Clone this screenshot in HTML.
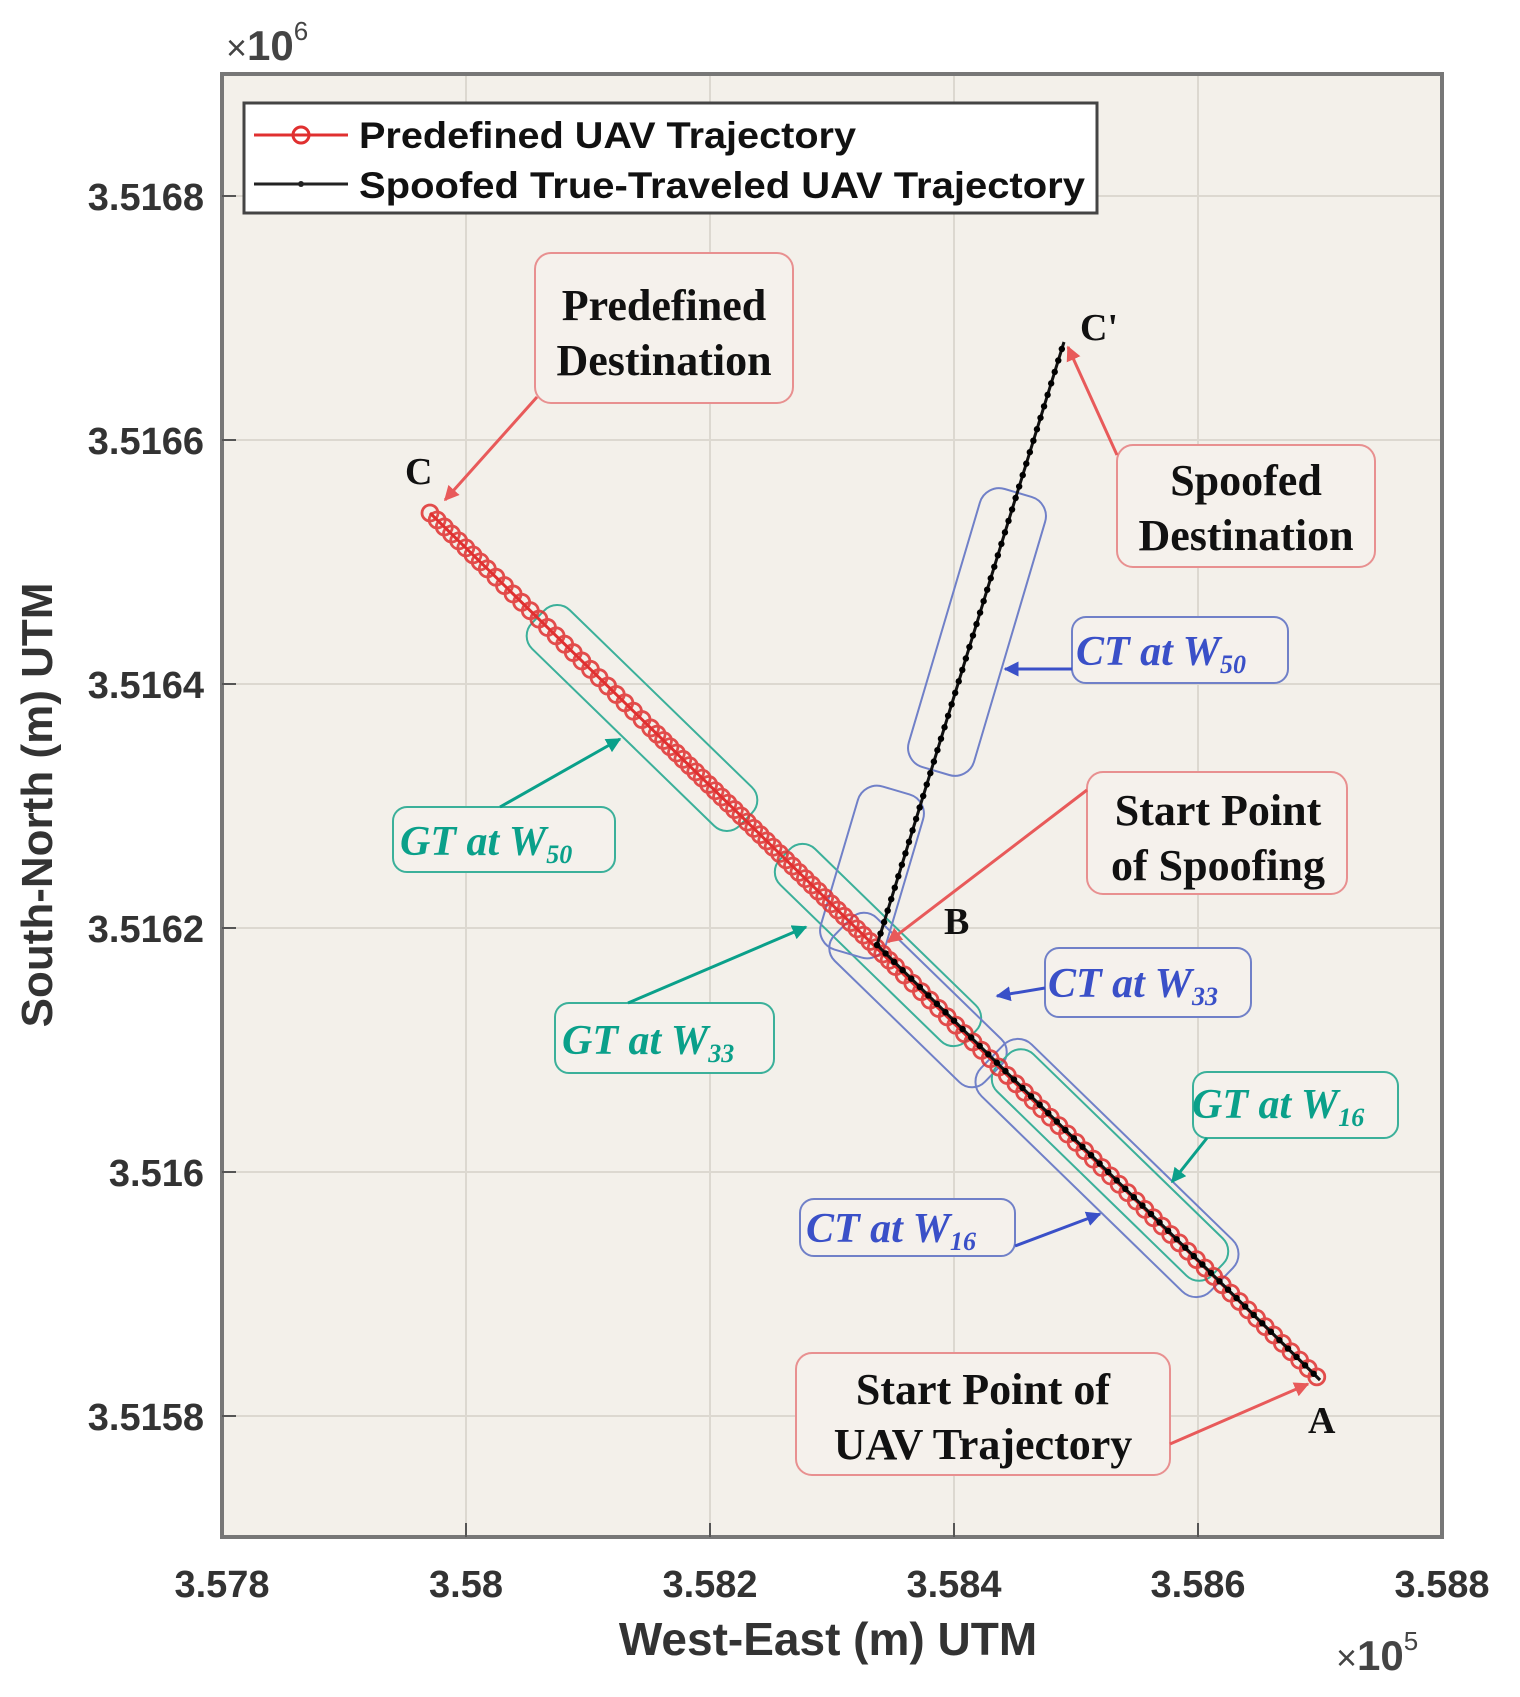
<!DOCTYPE html>
<html><head><meta charset="utf-8"><style>
html,body{margin:0;padding:0;background:#fff}
svg{display:block}
.tk{font-family:"Liberation Sans",Arial,sans-serif;font-weight:bold;font-size:38px;fill:#333}
.sf{font-family:"Liberation Serif",serif;font-weight:bold;font-size:44px;fill:#111}
.it{font-family:"Liberation Serif",serif;font-weight:bold;font-style:italic;font-size:42px}
</style></head><body>
<svg width="1520" height="1697" viewBox="0 0 1520 1697" xmlns="http://www.w3.org/2000/svg">
<defs>
<marker id="ar" viewBox="0 0 10 10" refX="9" refY="5" markerWidth="5" markerHeight="5" orient="auto"><path d="M0,0L10,5L0,10z" fill="#e85a5a"/></marker>
<marker id="ab" viewBox="0 0 10 10" refX="9" refY="5" markerWidth="5" markerHeight="5" orient="auto"><path d="M0,0L10,5L0,10z" fill="#3a50c8"/></marker>
<marker id="ag" viewBox="0 0 10 10" refX="9" refY="5" markerWidth="5" markerHeight="5" orient="auto"><path d="M0,0L10,5L0,10z" fill="#0aa08a"/></marker>
</defs>
<rect x="222" y="74" width="1220" height="1463" fill="#f3f0ea"/>
<g stroke="#dcd8d0" stroke-width="2">
<line x1="466" y1="74" x2="466" y2="1537"/><line x1="710" y1="74" x2="710" y2="1537"/>
<line x1="954" y1="74" x2="954" y2="1537"/><line x1="1198" y1="74" x2="1198" y2="1537"/>
<line x1="222" y1="196" x2="1442" y2="196"/><line x1="222" y1="440" x2="1442" y2="440"/>
<line x1="222" y1="684" x2="1442" y2="684"/><line x1="222" y1="928" x2="1442" y2="928"/>
<line x1="222" y1="1172" x2="1442" y2="1172"/><line x1="222" y1="1416" x2="1442" y2="1416"/>
</g>
<rect x="222" y="74" width="1220" height="1463" fill="none" stroke="#777" stroke-width="4"/>
<g stroke="#555" stroke-width="2">
<line x1="222" y1="196" x2="236" y2="196"/><line x1="222" y1="440" x2="236" y2="440"/><line x1="222" y1="684" x2="236" y2="684"/><line x1="222" y1="928" x2="236" y2="928"/><line x1="222" y1="1172" x2="236" y2="1172"/><line x1="222" y1="1416" x2="236" y2="1416"/>
<line x1="466" y1="1537" x2="466" y2="1523"/><line x1="710" y1="1537" x2="710" y2="1523"/><line x1="954" y1="1537" x2="954" y2="1523"/><line x1="1198" y1="1537" x2="1198" y2="1523"/>
</g>
<g class="tk" text-anchor="end">
<text x="204" y="210">3.5168</text><text x="204" y="454">3.5166</text><text x="204" y="698">3.5164</text>
<text x="204" y="942">3.5162</text><text x="204" y="1186">3.516</text><text x="204" y="1430">3.5158</text>
</g>
<g class="tk" text-anchor="middle">
<text x="222" y="1597">3.578</text><text x="466" y="1597">3.58</text><text x="710" y="1597">3.582</text>
<text x="954" y="1597">3.584</text><text x="1198" y="1597">3.586</text><text x="1442" y="1597">3.588</text>
</g>
<text x="226" y="60" font-family="Liberation Sans,sans-serif" font-size="36" fill="#444">×<tspan font-weight="bold" font-size="42">10</tspan><tspan font-size="26" dy="-20">6</tspan></text>
<text x="1336" y="1670" font-family="Liberation Sans,sans-serif" font-size="36" fill="#444">×<tspan font-weight="bold" font-size="42">10</tspan><tspan font-size="26" dy="-20">5</tspan></text>
<text x="828" y="1655" text-anchor="middle" font-family="Liberation Sans,sans-serif" font-weight="bold" font-size="46" fill="#333">West-East (m) UTM</text>
<text transform="translate(52,805) rotate(-90)" text-anchor="middle" font-family="Liberation Sans,sans-serif" font-weight="bold" font-size="44" fill="#333">South-North (m) UTM</text>

<g fill="none" stroke-width="2">
<rect x="-145" y="-27" width="290" height="54" rx="18" transform="translate(642,718) rotate(44.2)" stroke="#3bb09a"/>
<rect x="-130" y="-25" width="260" height="50" rx="18" transform="translate(878,945) rotate(44.2)" stroke="#3bb09a"/>
<rect x="-105" y="-30" width="210" height="60" rx="18" transform="translate(918,1000) rotate(44.2)" stroke="#7080c8"/>
<rect x="-160" y="-36" width="320" height="72" rx="20" transform="translate(1107,1168) rotate(44.2)" stroke="#7080c8"/>
<rect x="-150" y="-26" width="300" height="52" rx="18" transform="translate(1110,1165) rotate(44.2)" stroke="#3bb09a"/>
<rect x="-145" y="-34" width="290" height="68" rx="20" transform="translate(977,632) rotate(-73.5)" stroke="#7080c8"/>
<rect x="-85" y="-34" width="170" height="68" rx="20" transform="translate(872,872) rotate(-73.5)" stroke="#7080c8"/>
</g>

<line x1="430" y1="513" x2="1320" y2="1380" stroke="#e03030" stroke-width="3"/>
<g id="circ" fill="none" stroke="#e03030" stroke-width="2.8" opacity="0.85"></g>
<polyline points="1320,1380 877,945 1064,342" fill="none" stroke="#111" stroke-width="3"/>
<g id="dots" fill="#000"></g>

<rect x="244" y="103" width="853" height="110" fill="#fff" stroke="#444" stroke-width="3"/>
<line x1="254" y1="135" x2="348" y2="135" stroke="#e03030" stroke-width="3"/>
<circle cx="301" cy="135" r="8" fill="none" stroke="#e03030" stroke-width="3"/>
<line x1="254" y1="184" x2="348" y2="184" stroke="#222" stroke-width="3"/>
<circle cx="301" cy="184" r="3" fill="#222"/>
<g font-family="Liberation Sans,sans-serif" font-weight="bold" font-size="37" fill="#111">
<text x="359" y="148" textLength="497" lengthAdjust="spacingAndGlyphs">Predefined UAV Trajectory</text>
<text x="359" y="198" textLength="726" lengthAdjust="spacingAndGlyphs">Spoofed True-Traveled UAV Trajectory</text>
</g>

<g fill="#f5f1ec" stroke="#e89090" stroke-width="2">
<rect x="535" y="253" width="258" height="150" rx="16"/>
<rect x="1117" y="445" width="258" height="122" rx="16"/>
<rect x="1087" y="772" width="260" height="122" rx="16"/>
<rect x="796" y="1353" width="374" height="122" rx="16"/>
</g>
<g stroke="#e85a5a" stroke-width="3" fill="none">
<line x1="537" y1="397" x2="445" y2="500" marker-end="url(#ar)"/>
<line x1="1117" y1="455" x2="1068" y2="347" marker-end="url(#ar)"/>
<line x1="1087" y1="790" x2="888" y2="942" marker-end="url(#ar)"/>
<line x1="1170" y1="1444" x2="1308" y2="1384" marker-end="url(#ar)"/>
</g>
<g class="sf" text-anchor="middle">
<text x="664" y="320">Predefined</text><text x="664" y="375">Destination</text>
<text x="1246" y="495">Spoofed</text><text x="1246" y="550">Destination</text>
<text x="1218" y="825">Start Point</text><text x="1218" y="880">of Spoofing</text>
<text x="983" y="1404">Start Point of</text><text x="983" y="1459">UAV Trajectory</text>
</g>
<g font-family="Liberation Serif,serif" font-weight="bold" font-size="38" fill="#111">
<text x="405" y="484">C</text><text x="1080" y="340">C'</text><text x="944" y="934">B</text><text x="1308" y="1433">A</text>
</g>

<g fill="#f5f1ec" stroke-width="2">
<rect x="1072" y="617" width="216" height="66" rx="14" stroke="#7080c8"/>
<rect x="1045" y="948" width="206" height="69" rx="14" stroke="#7080c8"/>
<rect x="800" y="1199" width="215" height="57" rx="14" stroke="#7080c8"/>
<rect x="393" y="807" width="222" height="65" rx="14" stroke="#3bb09a"/>
<rect x="555" y="1003" width="219" height="70" rx="14" stroke="#3bb09a"/>
<rect x="1193" y="1072" width="205" height="66" rx="14" stroke="#3bb09a"/>
</g>
<g stroke-width="3" fill="none">
<line x1="1072" y1="669" x2="1005" y2="669" stroke="#3a50c8" marker-end="url(#ab)"/>
<line x1="1045" y1="988" x2="997" y2="996" stroke="#3a50c8" marker-end="url(#ab)"/>
<line x1="1015" y1="1246" x2="1100" y2="1214" stroke="#3a50c8" marker-end="url(#ab)"/>
<line x1="500" y1="807" x2="620" y2="739" stroke="#0aa08a" marker-end="url(#ag)"/>
<line x1="628" y1="1003" x2="806" y2="927" stroke="#0aa08a" marker-end="url(#ag)"/>
<line x1="1207" y1="1138" x2="1172" y2="1182" stroke="#0aa08a" marker-end="url(#ag)"/>
</g>
<g class="it" fill="#3a50c8">
<text x="1076" y="665">CT at W<tspan font-size="26" dy="8">50</tspan></text>
<text x="1048" y="997">CT at W<tspan font-size="26" dy="8">33</tspan></text>
<text x="806" y="1242">CT at W<tspan font-size="26" dy="8">16</tspan></text>
</g>
<g class="it" fill="#0aa08a">
<text x="400" y="855">GT at W<tspan font-size="26" dy="8">50</tspan></text>
<text x="562" y="1054">GT at W<tspan font-size="26" dy="8">33</tspan></text>
<text x="1192" y="1118">GT at W<tspan font-size="26" dy="8">16</tspan></text>
</g>
</svg>
<script>
(function(){
var ns="http://www.w3.org/2000/svg";
var g=document.getElementById("circ");
var ax=430,ay=513,bx=1320,by=1380,L=Math.hypot(bx-ax,by-ay);
var t=0;
while(t<=L){
 var c=document.createElementNS(ns,"circle");
 c.setAttribute("cx",ax+(bx-ax)*t/L);c.setAttribute("cy",ay+(by-ay)*t/L);c.setAttribute("r",8);
 g.appendChild(c);
 t+= (t<80)?10:((t>300&&t<650)?9:12);
}
var d=document.getElementById("dots");
function dots(x1,y1,x2,y2,s){var l=Math.hypot(x2-x1,y2-y1);for(var u=0;u<=l;u+=s){var c=document.createElementNS(ns,"circle");c.setAttribute("cx",x1+(x2-x1)*u/l);c.setAttribute("cy",y1+(y2-y1)*u/l);c.setAttribute("r",3.2);d.appendChild(c);}}
dots(877,945,1320,1380,12);dots(877,945,1064,342,12);
})();
</script>
</body></html>
